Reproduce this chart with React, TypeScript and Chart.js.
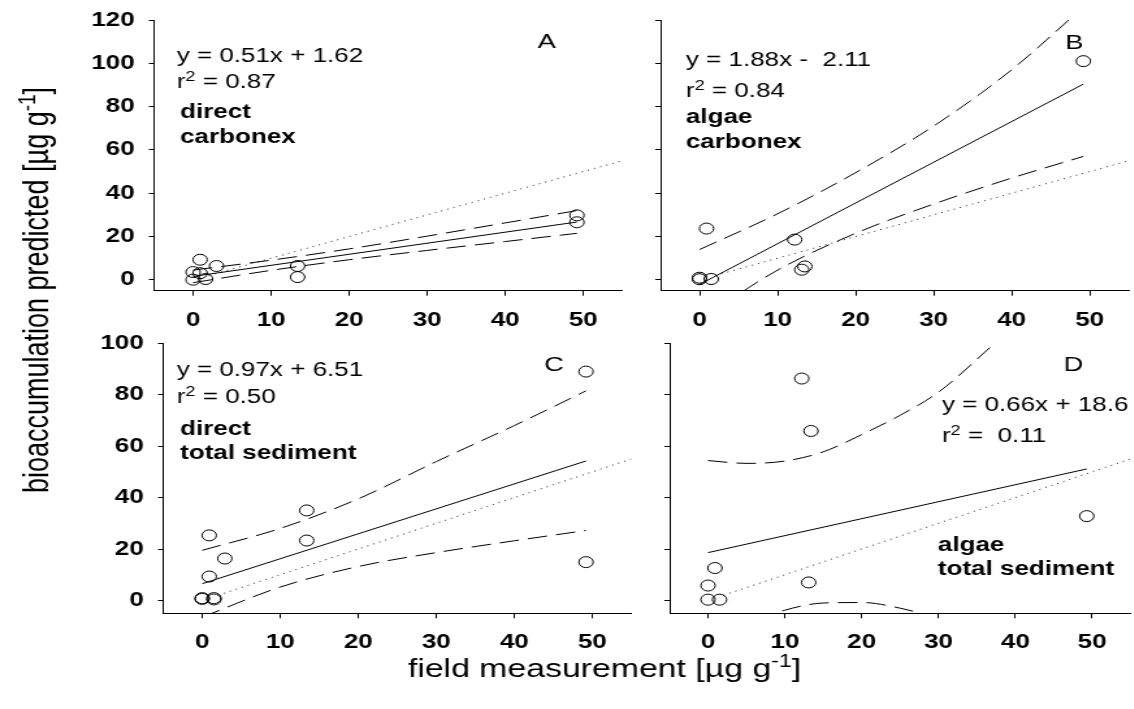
import React, { useEffect, useRef } from "react";
import { Chart, registerables } from "chart.js";

Chart.register(...registerables);

// The figure is rendered on a narrower bitmap and widened by CSS,
// giving the horizontally stretched look of the printed figure.
const STRETCH = 1.3;
const CANVAS_W = 876;
const CANVAS_H = 709;
const FAMILY = '"Liberation Sans", Arial, Helvetica, sans-serif';

// Shared axes
const xTicks = [0, 10, 20, 30, 40, 50];
const yTicksTop = [0, 20, 40, 60, 80, 100, 120];
const yTicksBottom = [0, 20, 40, 60, 80, 100];
const identityX = [2, 55];

// Panel A: direct, carbonex
const fieldA = [0.9, 3.0, 0, 0.9, 0, 1.6, 13.4, 13.4, 49.2, 49.2];
const predA = [9.3, 6.4, 3.6, 3.1, 0.1, 0.4, 6.4, 1.3, 29.8, 26.6];
const slopeA = 0.51;
const interceptA = 1.62;
const bandXA = [0, 10, 20, 30, 40, 49.2];
const upperA = [4.5, 9.1, 14.3, 20.2, 26.3, 32.0];
const lowerA = [-1.3, 4.4, 9.3, 13.6, 17.7, 21.5];

// Panel B: algae, carbonex
const fieldB = [0.9, 12.2, 13.5, 13.1, 0, 0, 1.5, 49.2];
const predB = [23.7, 18.6, 6.2, 4.7, 1.0, 0.3, 0.4, 101.0];
const slopeB = 1.88;
const interceptB = -2.11;
const bandXB = [0, 10, 20, 30, 40, 49.2];
const upperB = [14, 30.5, 49.5, 71, 97, 126];
const lowerB = [-18.5, 4.5, 21.5, 35, 47, 57];

// Panel C: direct, total sediment
const fieldC = [0.9, 2.9, 0.9, 0, 1.5, 0, 1.5, 13.4, 13.4, 49.2, 49.2];
const predC = [25.3, 16.3, 9.3, 0.9, 0.9, 0.6, 0.4, 35.0, 23.3, 89.0, 14.9];
const slopeC = 0.97;
const interceptC = 6.51;
const bandXC = [0, 10, 20, 30, 40, 49.2];
const upperC = [19.5, 28, 39.5, 54, 68, 81.5];
const lowerC = [-6.5, 5.2, 13.2, 18.6, 23.2, 27.2];

// Panel D: algae, total sediment
const fieldD = [12.2, 13.4, 0.9, 0, 0, 1.5, 13.1, 49.3];
const predD = [86.3, 65.9, 12.6, 5.8, 0.3, 0.3, 7.0, 32.8];
const slopeD = 0.66;
const interceptD = 18.6;
const upperXD = [0, 5, 10, 15, 20, 25, 30, 37.4, 49.3];
const upperD = [54.4, 53.3, 54.2, 57.8, 64.5, 72, 81, 100.2, 131];
const lowerXD = [0, 5, 10, 15, 20, 25, 30, 40, 49.3];
const lowerD = [-17, -9.5, -3.8, -1.0, -0.8, -3.0, -7.0, -17, -30];

type Area = { left: number; right: number; top: number; bottom: number };
type Offsets = {
  eq: [number, number];
  r2: [number, number];
  group: [number, number];
  groupGap: number;
  letter: [number, number];
};
type Panel = {
  field: number[];
  pred: number[];
  slope: number;
  intercept: number;
  upperX: number[];
  upper: number[];
  lowerX: number[];
  lower: number[];
  yMax: number;
  yTicks: number[];
  yLabels: boolean;
  letter: string;
  equation: string;
  r2: string;
  group: string[];
  area: Area;
  text: Offsets;
};

const panels: Panel[] = [
  {
    field: fieldA, pred: predA, slope: slopeA, intercept: interceptA,
    upperX: bandXA, upper: upperA, lowerX: bandXA, lower: lowerA,
    yMax: 120, yTicks: yTicksTop, yLabels: true,
    letter: "A", equation: "y = 0.51x + 1.62", r2: " = 0.87",
    group: ["direct", "carbonex"],
    area: { left: 118.5, right: 478.5, top: 20, bottom: 290.7 },
    text: { eq: [17.4, 41.7], r2: [17.4, 68.3], group: [20, 98.3], groupGap: 25, letter: [302, 28.3] },
  },
  {
    field: fieldB, pred: predB, slope: slopeB, intercept: interceptB,
    upperX: bandXB, upper: upperB, lowerX: bandXB, lower: lowerB,
    yMax: 120, yTicks: yTicksTop, yLabels: false,
    letter: "B", equation: "y = 1.88x -  2.11", r2: " = 0.84",
    group: ["algae", "carbonex"],
    area: { left: 508, right: 868, top: 20, bottom: 290.7 },
    text: { eq: [19.5, 45.7], r2: [19.5, 76.7], group: [19.5, 103.3], groupGap: 25, letter: [318.2, 29.3] },
  },
  {
    field: fieldC, pred: predC, slope: slopeC, intercept: interceptC,
    upperX: bandXC, upper: upperC, lowerX: bandXC, lower: lowerC,
    yMax: 100, yTicks: yTicksBottom, yLabels: true,
    letter: "C", equation: "y = 0.97x + 6.51", r2: " = 0.50",
    group: ["direct", "total sediment"],
    area: { left: 125.5, right: 485.5, top: 343.3, bottom: 613.3 },
    text: { eq: [10.4, 32.7], r2: [10.4, 60], group: [13, 91.7], groupGap: 24.3, letter: [300.7, 27.4] },
  },
  {
    field: fieldD, pred: predD, slope: slopeD, intercept: interceptD,
    upperX: upperXD, upper: upperD, lowerX: lowerXD, lower: lowerD,
    yMax: 100, yTicks: yTicksBottom, yLabels: false,
    letter: "D", equation: "y = 0.66x + 18.6", r2: " =  0.11",
    group: ["algae", "total sediment"],
    area: { left: 515, right: 875, top: 343.3, bottom: 613.3 },
    text: { eq: [209.4, 67.7], r2: [209.4, 98.4], group: [206.3, 207.4], groupGap: 24.3, letter: [310.6, 27.4] },
  },
];

const Y_AXIS_W = 60;
const X_AXIS_H = 50;

function pairs(xs: number[], ys: number[]) {
  return xs.map((x, i) => ({ x, y: ys[i] }));
}

// Draws "base" followed by a raised, smaller "sup" and then "rest".
function drawSupText(
  ctx: CanvasRenderingContext2D,
  parts: { base: string; sup: string; rest: string },
  x: number,
  y: number,
  size: number,
  supSize: number,
  raise: number
) {
  ctx.font = `${size}px ${FAMILY}`;
  ctx.fillText(parts.base, x, y);
  let cx = x + ctx.measureText(parts.base).width;
  ctx.font = `${supSize}px ${FAMILY}`;
  ctx.fillText(parts.sup, cx, y - raise);
  cx += ctx.measureText(parts.sup).width;
  ctx.font = `${size}px ${FAMILY}`;
  ctx.fillText(parts.rest, cx, y);
}

function supTextWidth(
  ctx: CanvasRenderingContext2D,
  parts: { base: string; sup: string; rest: string },
  size: number,
  supSize: number
) {
  ctx.font = `${size}px ${FAMILY}`;
  let w = ctx.measureText(parts.base).width + ctx.measureText(parts.rest).width;
  ctx.font = `${supSize}px ${FAMILY}`;
  w += ctx.measureText(parts.sup).width;
  return w;
}

const panelTextPlugin = {
  id: "panelText",
  afterDatasetsDraw(chart: any, _args: any, opts: any) {
    const panel: Panel = opts.panel;
    const { ctx, chartArea } = chart;
    const L = chartArea.left;
    const T = chartArea.top;
    const t = panel.text;
    ctx.save();
    ctx.fillStyle = "#000";
    ctx.textAlign = "left";
    ctx.textBaseline = "alphabetic";
    ctx.font = `20px ${FAMILY}`;
    ctx.fillText(panel.equation, L + t.eq[0], T + t.eq[1]);
    drawSupText(ctx, { base: "r", sup: "2", rest: panel.r2 }, L + t.r2[0], T + t.r2[1], 20, 14, 7);
    ctx.font = `bold 20px ${FAMILY}`;
    panel.group.forEach((line, i) => {
      ctx.fillText(line, L + t.group[0], T + t.group[1] + i * t.groupGap);
    });
    ctx.font = `21px ${FAMILY}`;
    ctx.textAlign = "center";
    ctx.fillText(panel.letter, L + t.letter[0], T + t.letter[1]);
    ctx.restore();
  },
};

const axisTitlesPlugin = {
  id: "axisTitles",
  afterDraw(chart: any, _args: any, opts: any) {
    if (!opts || !opts.show) return;
    const { ctx } = chart;
    ctx.save();
    ctx.fillStyle = "#000";
    ctx.textAlign = "left";
    ctx.textBaseline = "alphabetic";

    const yTitle = { base: "bioaccumulation predicted [µg g", sup: "-1", rest: "]" };
    const ySize = 27;
    const yW = supTextWidth(ctx, yTitle, ySize, 19);
    ctx.translate(37, 290);
    ctx.rotate(-Math.PI / 2);
    drawSupText(ctx, yTitle, -yW / 2, 0, ySize, 19, 10);
    ctx.setTransform(1, 0, 0, 1, 0, 0);

    const xTitle = { base: "field measurement [µg g", sup: "-1", rest: "]" };
    const xSize = 26;
    const xW = supTextWidth(ctx, xTitle, xSize, 18);
    drawSupText(ctx, xTitle, 465 - xW / 2, 677, xSize, 18, 10);
    ctx.restore();
  },
};

function buildConfig(panel: Panel, showTitles: boolean): any {
  const minX = Math.min(...panel.field);
  const maxX = Math.max(...panel.field);
  const fitLine = [minX, maxX].map((x) => ({ x, y: panel.slope * x + panel.intercept }));
  const a = panel.area;

  const tickFont = { family: FAMILY, size: 20, weight: "bold" as const };

  return {
    type: "scatter",
    data: {
      datasets: [
        {
          data: pairs(panel.field, panel.pred),
          showLine: false,
          pointStyle: "circle",
          pointRadius: 5.5,
          pointHoverRadius: 5.5,
          borderColor: "#000",
          backgroundColor: "rgba(0,0,0,0)",
          borderWidth: 1,
        },
        {
          data: fitLine,
          showLine: true,
          pointRadius: 0,
          borderColor: "#000",
          borderWidth: 1,
        },
        {
          data: pairs(panel.upperX, panel.upper),
          showLine: true,
          pointRadius: 0,
          borderColor: "#000",
          borderWidth: 1,
          borderDash: [15, 7],
          cubicInterpolationMode: "monotone",
        },
        {
          data: pairs(panel.lowerX, panel.lower),
          showLine: true,
          pointRadius: 0,
          borderColor: "#000",
          borderWidth: 1,
          borderDash: [15, 7],
          cubicInterpolationMode: "monotone",
        },
        {
          data: pairs(identityX, identityX),
          showLine: true,
          pointRadius: 0,
          borderColor: "#222",
          borderWidth: 1,
          borderDash: [1, 4],
        },
      ],
    },
    options: {
      responsive: false,
      animation: false,
      devicePixelRatio: 1,
      events: [],
      layout: {
        padding: {
          left: a.left - Y_AXIS_W,
          right: CANVAS_W - a.right,
          top: a.top,
          bottom: CANVAS_H - a.bottom - X_AXIS_H,
        },
      },
      plugins: {
        legend: { display: false },
        tooltip: { enabled: false },
        panelText: { panel },
        axisTitles: { show: showTitles },
      },
      scales: {
        x: {
          type: "linear",
          min: -5,
          max: 55,
          afterBuildTicks: (s: any) => {
            s.ticks = xTicks.map((v) => ({ value: v }));
          },
          afterFit: (s: any) => {
            s.height = X_AXIS_H;
            s.paddingLeft = 0;
            s.paddingRight = 0;
            s.paddingTop = 0;
            s.paddingBottom = 0;
          },
          grid: { drawOnChartArea: false, drawTicks: true, tickLength: 5, color: "#000", lineWidth: 1 },
          border: { display: true, color: "#000", width: 1 },
          ticks: {
            color: "#000",
            font: tickFont,
            padding: 12.5,
            maxRotation: 0,
            autoSkip: false,
            callback: (v: any) => String(v),
          },
        },
        y: {
          type: "linear",
          min: -5,
          max: panel.yMax,
          afterBuildTicks: (s: any) => {
            s.ticks = panel.yTicks.map((v) => ({ value: v }));
          },
          afterFit: (s: any) => {
            s.width = Y_AXIS_W;
            s.paddingLeft = 0;
            s.paddingRight = 0;
            s.paddingTop = 0;
            s.paddingBottom = 0;
          },
          grid: { drawOnChartArea: false, drawTicks: true, tickLength: 4, color: "#000", lineWidth: 1 },
          border: { display: true, color: "#000", width: 1 },
          ticks: {
            color: "#000",
            font: tickFont,
            padding: 11,
            autoSkip: false,
            callback: (v: any) => (panel.yLabels ? String(v) : ""),
          },
        },
      },
    },
    plugins: [panelTextPlugin, axisTitlesPlugin],
  };
}

function PanelChart({ panel, showTitles }: { panel: Panel; showTitles: boolean }) {
  const ref = useRef<HTMLCanvasElement>(null);
  useEffect(() => {
    if (!ref.current) return;
    const chart = new Chart(ref.current, buildConfig(panel, showTitles));
    return () => chart.destroy();
  }, [panel, showTitles]);
  return (
    <canvas
      ref={ref}
      width={CANVAS_W}
      height={CANVAS_H}
      style={{
        position: "absolute",
        left: 0,
        top: 0,
        width: `${CANVAS_W * STRETCH}px`,
        height: `${CANVAS_H}px`,
      }}
    />
  );
}

export default function App() {
  return (
    <div
      style={{
        position: "fixed",
        left: 0,
        top: 0,
        width: 1134,
        height: 709,
        overflow: "hidden",
        background: "#fff",
      }}
    >
      {panels.map((p, i) => (
        <PanelChart key={p.letter} panel={p} showTitles={i === 0} />
      ))}
    </div>
  );
}
